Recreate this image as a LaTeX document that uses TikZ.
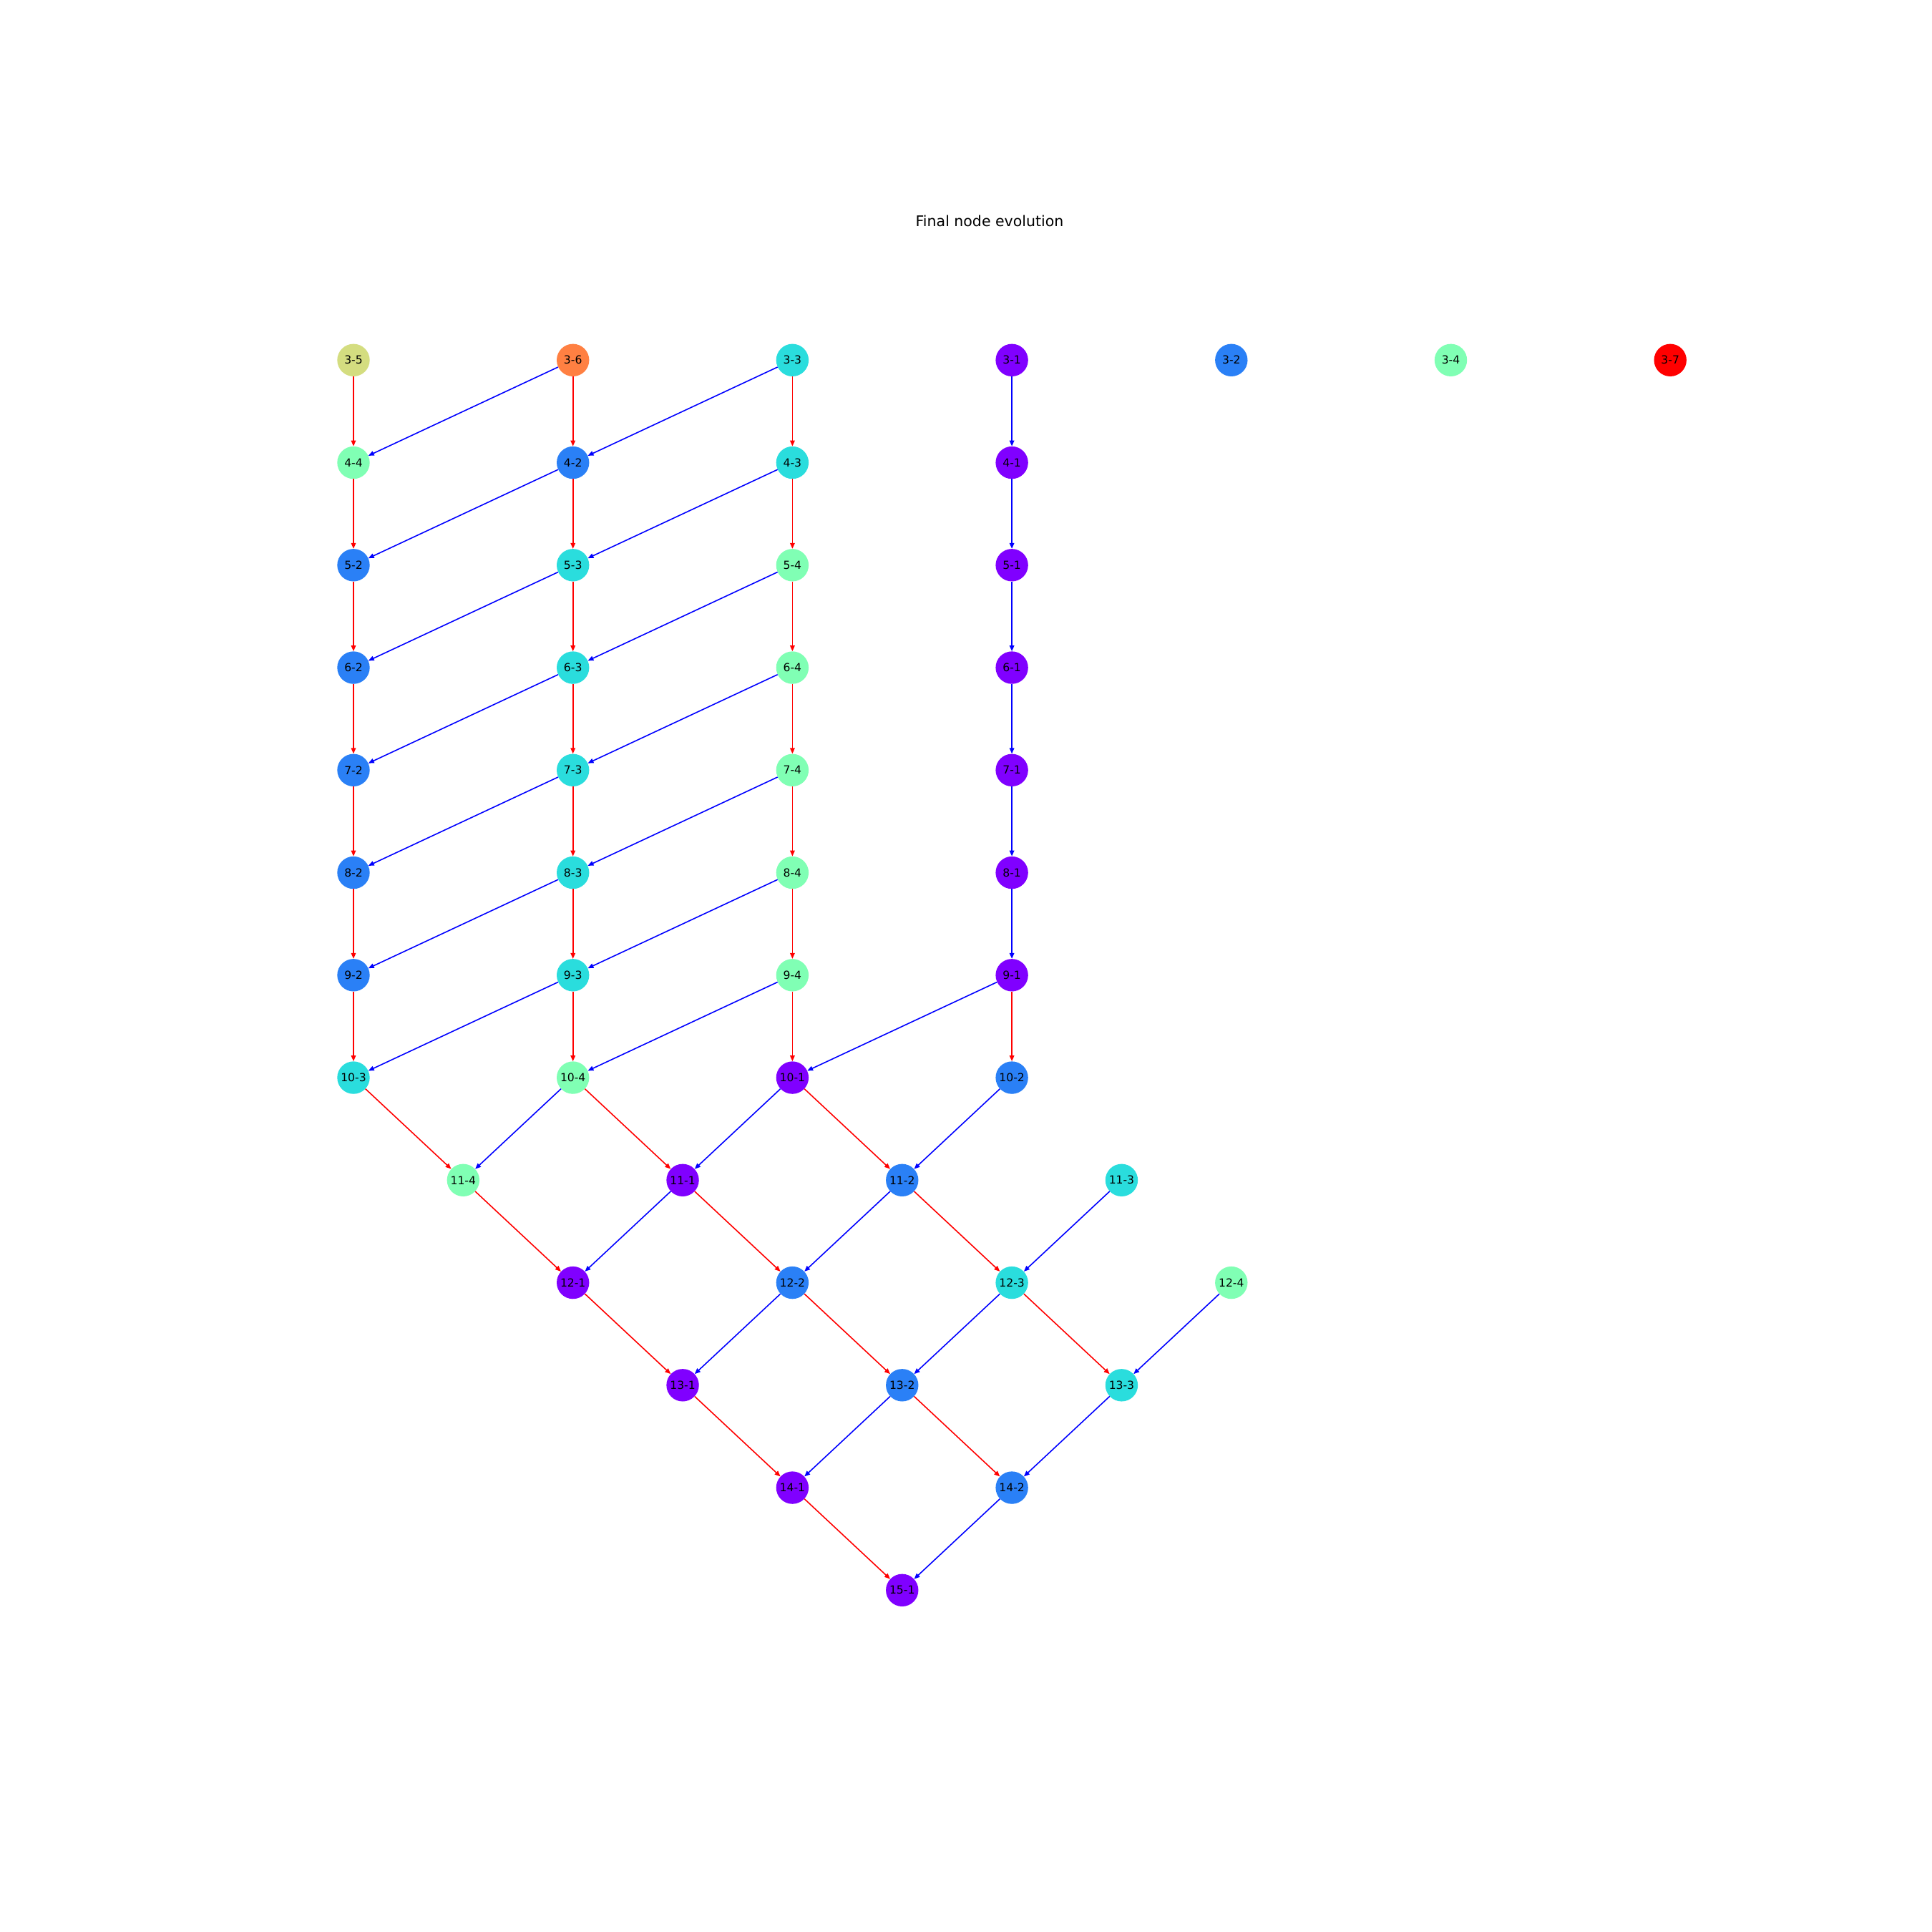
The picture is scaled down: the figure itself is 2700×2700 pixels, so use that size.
\documentclass[tikz,border=0pt]{standalone}
\usepackage{fontspec}
\setmainfont{DejaVu Sans}
\usetikzlibrary{arrows.meta}
\definecolor{cpurple}{RGB}{128,0,255}
\definecolor{cblue}{RGB}{42,128,246}
\definecolor{ccyan}{RGB}{42,221,221}
\definecolor{cgreen}{RGB}{128,255,180}
\definecolor{ckhaki}{RGB}{212,221,128}
\definecolor{corange}{RGB}{255,128,66}
\definecolor{cred}{RGB}{255,0,0}
\tikzset{
  nd/.style={circle, minimum size=45.4pt, inner sep=0pt, font=\fontsize{15.6}{15.6}\selectfont, text=black},
  pu/.style={nd, fill=cpurple},
  bl/.style={nd, fill=cblue},
  cy/.style={nd, fill=ccyan},
  gr/.style={nd, fill=cgreen},
  kh/.style={nd, fill=ckhaki},
  orr/.style={nd, fill=corange},
  rd/.style={nd, fill=cred},
  redge/.style={draw={rgb,255:red,255;green,0;blue,0}, line width=1.6pt, -{Triangle[length=8pt,width=6.5pt]}},
  bedge/.style={draw={rgb,255:red,0;green,0;blue,255}, line width=1.6pt, -{Triangle[length=8pt,width=6.5pt]}},
}
\newcommand{\gnode}[4]{\node[#1] (n#2x#3) at ({494+#4*306.7},{503.3+(#2-3)*143.25}) {#2-#3};}
\newcommand{\redg}[2]{\draw[redge] (n#1) -- (n#2);}
\newcommand{\bedg}[2]{\draw[bedge] (n#1) -- (n#2);}
\begin{document}
\begin{tikzpicture}[x=1pt,y=-1pt]
\useasboundingbox (0,0) rectangle (2700,2700);
\node[font=\fontsize{20.5}{20.5}\selectfont, anchor=base] (title) at (1383,316) {Final node evolution};
% row 3
\gnode{kh}{3}{5}{0}
\gnode{orr}{3}{6}{1}
\gnode{cy}{3}{3}{2}
\gnode{pu}{3}{1}{3}
\gnode{bl}{3}{2}{4}
\gnode{gr}{3}{4}{5}
\gnode{rd}{3}{7}{6}
% row 4
\gnode{gr}{4}{4}{0}
\gnode{bl}{4}{2}{1}
\gnode{cy}{4}{3}{2}
\gnode{pu}{4}{1}{3}
% rows 5-9
\gnode{bl}{5}{2}{0}
\gnode{cy}{5}{3}{1}
\gnode{gr}{5}{4}{2}
\gnode{pu}{5}{1}{3}
\gnode{bl}{6}{2}{0}
\gnode{cy}{6}{3}{1}
\gnode{gr}{6}{4}{2}
\gnode{pu}{6}{1}{3}
\gnode{bl}{7}{2}{0}
\gnode{cy}{7}{3}{1}
\gnode{gr}{7}{4}{2}
\gnode{pu}{7}{1}{3}
\gnode{bl}{8}{2}{0}
\gnode{cy}{8}{3}{1}
\gnode{gr}{8}{4}{2}
\gnode{pu}{8}{1}{3}
\gnode{bl}{9}{2}{0}
\gnode{cy}{9}{3}{1}
\gnode{gr}{9}{4}{2}
\gnode{pu}{9}{1}{3}
% row 10
\gnode{cy}{10}{3}{0}
\gnode{gr}{10}{4}{1}
\gnode{pu}{10}{1}{2}
\gnode{bl}{10}{2}{3}
% row 11
\gnode{gr}{11}{4}{0.5}
\gnode{pu}{11}{1}{1.5}
\gnode{bl}{11}{2}{2.5}
\gnode{cy}{11}{3}{3.5}
% row 12
\gnode{pu}{12}{1}{1}
\gnode{bl}{12}{2}{2}
\gnode{cy}{12}{3}{3}
\gnode{gr}{12}{4}{4}
% row 13
\gnode{pu}{13}{1}{1.5}
\gnode{bl}{13}{2}{2.5}
\gnode{cy}{13}{3}{3.5}
% row 14
\gnode{pu}{14}{1}{2}
\gnode{bl}{14}{2}{3}
% row 15
\gnode{pu}{15}{1}{2.5}
% edges 3 -> 4
\redg{3x5}{4x4} \redg{3x6}{4x2} \redg{3x3}{4x3}
\bedg{3x6}{4x4} \bedg{3x3}{4x2} \bedg{3x1}{4x1}
% 4 -> 5
\redg{4x4}{5x2} \redg{4x2}{5x3} \redg{4x3}{5x4}
\bedg{4x2}{5x2} \bedg{4x3}{5x3} \bedg{4x1}{5x1}
% 5 -> 6
\redg{5x2}{6x2} \redg{5x3}{6x3} \redg{5x4}{6x4}
\bedg{5x3}{6x2} \bedg{5x4}{6x3} \bedg{5x1}{6x1}
% 6 -> 7
\redg{6x2}{7x2} \redg{6x3}{7x3} \redg{6x4}{7x4}
\bedg{6x3}{7x2} \bedg{6x4}{7x3} \bedg{6x1}{7x1}
% 7 -> 8
\redg{7x2}{8x2} \redg{7x3}{8x3} \redg{7x4}{8x4}
\bedg{7x3}{8x2} \bedg{7x4}{8x3} \bedg{7x1}{8x1}
% 8 -> 9
\redg{8x2}{9x2} \redg{8x3}{9x3} \redg{8x4}{9x4}
\bedg{8x3}{9x2} \bedg{8x4}{9x3} \bedg{8x1}{9x1}
% 9 -> 10
\redg{9x2}{10x3} \redg{9x3}{10x4} \redg{9x4}{10x1} \redg{9x1}{10x2}
\bedg{9x3}{10x3} \bedg{9x4}{10x4} \bedg{9x1}{10x1}
% 10 -> 11
\redg{10x3}{11x4} \redg{10x4}{11x1} \redg{10x1}{11x2}
\bedg{10x4}{11x4} \bedg{10x1}{11x1} \bedg{10x2}{11x2}
% 11 -> 12
\redg{11x4}{12x1} \redg{11x1}{12x2} \redg{11x2}{12x3}
\bedg{11x1}{12x1} \bedg{11x2}{12x2} \bedg{11x3}{12x3}
% 12 -> 13
\redg{12x1}{13x1} \redg{12x2}{13x2} \redg{12x3}{13x3}
\bedg{12x2}{13x1} \bedg{12x3}{13x2} \bedg{12x4}{13x3}
% 13 -> 14
\redg{13x1}{14x1} \redg{13x2}{14x2}
\bedg{13x2}{14x1} \bedg{13x3}{14x2}
% 14 -> 15
\redg{14x1}{15x1}
\bedg{14x2}{15x1}
\end{tikzpicture}
\end{document}
